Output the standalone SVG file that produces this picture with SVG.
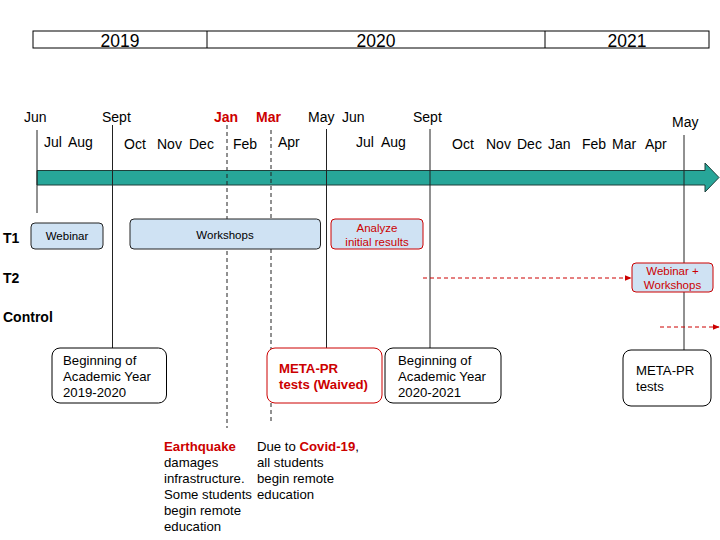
<svg xmlns="http://www.w3.org/2000/svg" width="720" height="540" viewBox="0 0 720 540">
<defs>
<style>
text{font-family:"Liberation Sans",Arial,sans-serif;fill:#000}
.yr{font-size:17.5px;text-anchor:middle}
.mo{font-size:14px}
.red{fill:#cc0000}
.b{font-weight:bold}
.row{font-size:14px;font-weight:bold}
.vl{stroke:#222;stroke-width:1;fill:none}
.dl{stroke:#222;stroke-width:1;fill:none;stroke-dasharray:4,3}
.bluebox{fill:#cfe2f3;stroke:#222;stroke-width:1}
.redbox{fill:#cfe2f3;stroke:#cc0000;stroke-width:1}
.wbox{fill:#fff;stroke:#000;stroke-width:1}
.wredbox{fill:#fff;stroke:#cc0000;stroke-width:1}
.sm{font-size:11.5px;text-anchor:middle}
.bx{font-size:13.2px}
.rarr{stroke:#cc0000;stroke-width:1;stroke-dasharray:4,3;fill:none}
</style>
<marker id="ah" viewBox="0 0 10 10" refX="9" refY="5" markerWidth="7" markerHeight="7" orient="auto" markerUnits="userSpaceOnUse">
<path d="M0,1 L10,5 L0,9 z" fill="#cc0000"/>
</marker>
</defs>
<rect width="720" height="540" fill="#fff"/>

<g id="years">
<rect x="33" y="31" width="676" height="17" fill="#fff" stroke="#000" stroke-width="1"/>
<line x1="207" y1="31" x2="207" y2="48" stroke="#000"/>
<line x1="545" y1="31" x2="545" y2="48" stroke="#000"/>
<text class="yr" x="120" y="46.5">2019</text>
<text class="yr" x="376" y="46.5">2020</text>
<text class="yr" x="627" y="46.5">2021</text>
</g>

<g id="timeline-arrow">
<path d="M37,170.5 L705,170.5 L705,163 L719,177.5 L705,192 L705,185 L37,185 z" fill="#27a699" stroke="#1e3f3b" stroke-width="1"/>
</g>

<g id="months">
<text class="mo" x="24" y="122">Jun</text>
<text class="mo" x="102" y="122">Sept</text>
<text class="mo red b" x="214" y="122">Jan</text>
<text class="mo red b" x="256" y="122">Mar</text>
<text class="mo" x="308" y="122">May</text>
<text class="mo" x="342" y="122">Jun</text>
<text class="mo" x="413" y="122">Sept</text>
<text class="mo" x="672" y="127">May</text>
<text class="mo" x="44" y="147">Jul</text>
<text class="mo" x="68" y="147">Aug</text>
<text class="mo" x="124" y="149">Oct</text>
<text class="mo" x="157" y="149">Nov</text>
<text class="mo" x="189" y="149">Dec</text>
<text class="mo" x="233" y="149">Feb</text>
<text class="mo" x="278" y="147">Apr</text>
<text class="mo" x="356" y="147">Jul</text>
<text class="mo" x="381" y="147">Aug</text>
<text class="mo" x="452" y="149">Oct</text>
<text class="mo" x="486" y="149">Nov</text>
<text class="mo" x="517" y="149">Dec</text>
<text class="mo" x="548" y="149">Jan</text>
<text class="mo" x="582" y="149">Feb</text>
<text class="mo" x="612" y="149">Mar</text>
<text class="mo" x="645" y="149">Apr</text>
</g>

<g id="connectors">
<line class="vl" x1="37" y1="130" x2="37" y2="213"/>
<line class="vl" x1="112.5" y1="125" x2="112.5" y2="348"/>
<line class="dl" x1="227" y1="125" x2="227" y2="428"/>
<line class="dl" x1="271" y1="130" x2="271" y2="424"/>
<line class="vl" x1="326.5" y1="129" x2="326.5" y2="348"/>
<line class="vl" x1="430" y1="129" x2="430" y2="348"/>
<line class="vl" x1="684" y1="135" x2="684" y2="350"/>
<line class="rarr" x1="423" y1="278" x2="631" y2="278" marker-end="url(#ah)"/>
<line class="rarr" x1="660" y1="327" x2="719" y2="327" marker-end="url(#ah)"/>
</g>

<g id="row-labels">
<text class="row" x="3" y="243">T1</text>
<text class="row" x="3" y="283">T2</text>
<text class="row" x="3" y="322">Control</text>
</g>

<g id="webinar">
<rect class="bluebox" x="31" y="223" width="72" height="26" rx="4"/>
<text class="sm" x="67" y="240">Webinar</text>
</g>
<g id="workshops">
<rect class="bluebox" x="130" y="219" width="190.5" height="30" rx="4"/>
<text class="sm" x="225" y="239">Workshops</text>
</g>
<g id="analyze">
<rect class="redbox" x="331" y="219" width="92" height="30" rx="4"/>
<text class="sm red" x="377" y="232">Analyze</text>
<text class="sm red" x="377" y="246">initial results</text>
</g>
<g id="webinar-workshops">
<rect class="redbox" x="632" y="263" width="81" height="29" rx="4"/>
<text class="sm red" x="672.5" y="275">Webinar +</text>
<text class="sm red" x="672.5" y="289">Workshops</text>
</g>

<g id="begin-2019">
<rect class="wbox" x="52" y="348" width="114.5" height="55" rx="8"/>
<text class="bx" x="63" y="365">Beginning of</text>
<text class="bx" x="63" y="381">Academic Year</text>
<text class="bx" x="63" y="397">2019-2020</text>
</g>
<g id="meta-waived">
<rect class="wredbox" x="267" y="348" width="115" height="55" rx="8"/>
<text class="bx red b" x="279" y="373">META-PR</text>
<text class="bx red b" x="279" y="389">tests (Waived)</text>
</g>
<g id="begin-2020">
<rect class="wbox" x="385" y="348" width="116" height="55" rx="8"/>
<text class="bx" x="398" y="365">Beginning of</text>
<text class="bx" x="398" y="381">Academic Year</text>
<text class="bx" x="398" y="397">2020-2021</text>
</g>
<g id="meta-tests">
<rect class="wbox" x="623" y="350" width="88" height="56" rx="8"/>
<text class="bx" x="636" y="375">META-PR</text>
<text class="bx" x="636" y="391">tests</text>
</g>

<g id="earthquake-note">
<text class="bx" x="164" y="451"><tspan class="red b">Earthquake</tspan></text>
<text class="bx" x="164" y="467">damages</text>
<text class="bx" x="164" y="483">infrastructure.</text>
<text class="bx" x="164" y="499">Some students</text>
<text class="bx" x="164" y="515">begin remote</text>
<text class="bx" x="164" y="531">education</text>
</g>
<g id="covid-note">
<text class="bx" x="257" y="451">Due to <tspan class="red b">Covid-19</tspan>,</text>
<text class="bx" x="257" y="467">all students</text>
<text class="bx" x="257" y="483">begin remote</text>
<text class="bx" x="257" y="499">education</text>
</g>
</svg>
